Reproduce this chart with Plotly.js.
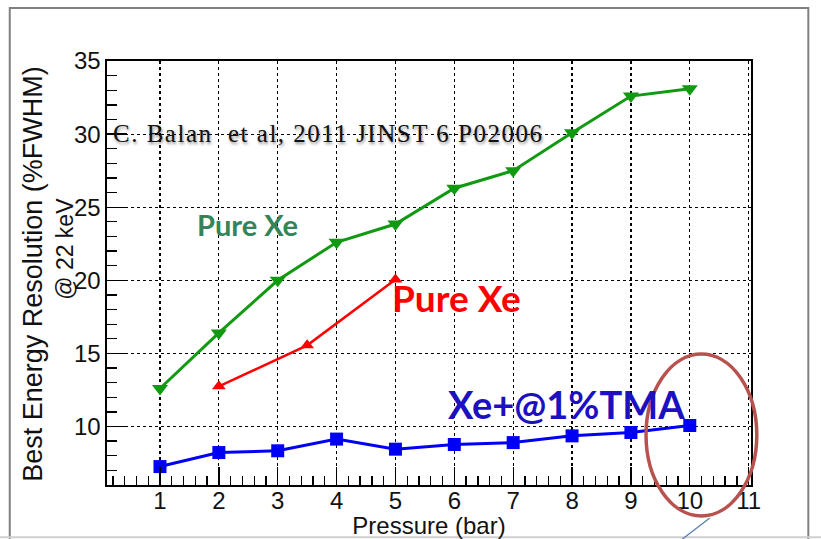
<!DOCTYPE html>
<html>
<head>
<meta charset="utf-8">
<script src="https://cdn.plot.ly/plotly-3.0.1.min.js"></script>
<style>
  html, body { margin: 0; padding: 0; background: #fff; }
  #chart { width: 821px; height: 539px; }
  /* soft drop shadow on the citation line */
  g.annotation[data-index="0"] text {
    text-shadow: 1px 2px 3px rgba(0,0,0,0.45);
    letter-spacing: 1.5px;
  }
</style>
</head>
<body>
<div id="chart"></div>
<script>
// Energy resolution vs pressure
const pureXeP   = [1, 2, 3, 4, 5, 6, 7, 8, 9, 10];
const pureXeRes = [12.6, 16.4, 20.0, 22.6, 23.85, 26.3, 27.5, 30.1, 32.6, 33.1];

const pureXe2P   = [2, 3.5, 5];
const pureXe2Res = [12.75, 15.55, 20.05];

const tmaP   = [1, 2, 3, 4, 5, 6, 7, 8, 9, 10];
const tmaRes = [7.26, 8.22, 8.34, 9.14, 8.45, 8.77, 8.9, 9.36, 9.59, 10.07];

const xTicks = [1, 2, 3, 4, 5, 6, 7, 8, 9, 10, 11];
const yTicks = [10, 15, 20, 25, 30, 35];

const traces = [
  {
    x: pureXeP, y: pureXeRes, type: 'scatter', mode: 'lines+markers',
    line: { color: '#119a11', width: 3 },
    marker: { symbol: 'triangle-down', size: 14, color: '#119a11' },
    showlegend: false
  },
  {
    x: pureXe2P, y: pureXe2Res, type: 'scatter', mode: 'lines+markers',
    line: { color: '#ff0000', width: 2.5 },
    marker: { symbol: 'triangle-up', size: 12, color: '#ff0000' },
    showlegend: false
  },
  {
    x: tmaP, y: tmaRes, type: 'scatter', mode: 'lines+markers',
    line: { color: '#0000f5', width: 3 },
    marker: { symbol: 'square', size: 13, color: '#0000f5' },
    showlegend: false
  }
];

const axisFont = { family: 'Liberation Sans, Arial, sans-serif', size: 24, color: '#111' };

const layout = {
  width: 821, height: 539,
  margin: { l: 107, r: 70, t: 61, b: 54 },
  paper_bgcolor: '#fff', plot_bgcolor: '#fff',
  xaxis: {
    range: [0.1, 11.04],
    tickvals: xTicks, ticktext: xTicks.map(String),
    ticks: 'inside', ticklen: 18, tickwidth: 1.3, tickcolor: '#000',
    ticklabelstandoff: -6,
    minor: { dtick: 0.2, ticks: 'inside', ticklen: 9, tickwidth: 1.3, tickcolor: '#000', showgrid: false },
    showgrid: true, gridcolor: '#000', gridwidth: 1.2, griddash: 'dot',
    showline: true, linecolor: '#000', linewidth: 1.6, mirror: true,
    zeroline: false,
    tickfont: axisFont,
    title: { text: 'Pressure (bar)', font: { family: 'Liberation Sans, Arial, sans-serif', size: 24, color: '#111' }, standoff: 6 }
  },
  yaxis: {
    range: [6, 35],
    tickvals: yTicks, ticktext: yTicks.map(String),
    ticks: 'inside', ticklen: 20, tickwidth: 1.3, tickcolor: '#000',
    minor: { dtick: 1, ticks: 'inside', ticklen: 10, tickwidth: 1.3, tickcolor: '#000', showgrid: false },
    showgrid: true, gridcolor: '#000', gridwidth: 1.2, griddash: 'dot',
    showline: true, linecolor: '#000', linewidth: 1.6, mirror: true,
    zeroline: false,
    tickfont: axisFont
  },
  annotations: [
    {
      text: 'C. Balan  et al, 2011 JINST 6 P02006',
      xref: 'paper', yref: 'paper', x: 0.343, y: 0.830,
      xanchor: 'center', yanchor: 'middle', showarrow: false,
      font: { family: 'Liberation Serif, Times New Roman, serif', size: 25, color: '#111' }
    },
    {
      text: '<b>Pure Xe</b>', xref: 'x', yref: 'y', x: 2.49, y: 23.85,
      xanchor: 'center', yanchor: 'middle',
      showarrow: false, font: { family: 'Lato, sans-serif', size: 29, color: '#34845a' }
    },
    {
      text: '<b>Pure Xe</b>', xref: 'x', yref: 'y', x: 6.03, y: 18.8,
      xanchor: 'center', yanchor: 'middle',
      showarrow: false, font: { family: 'Lato, sans-serif', size: 37, color: '#ff0000' }
    },
    {
      text: '<b>Xe+@1%TMA</b>', xref: 'x', yref: 'y', x: 7.91, y: 11.55,
      xanchor: 'center', yanchor: 'middle',
      showarrow: false, font: { family: 'Lato, sans-serif', size: 38, color: '#1c10c0' }
    },
    {
      text: 'Best Energy Resolution (%FWHM)', xref: 'paper', yref: 'paper',
      x: -0.115, y: 0.498, xanchor: 'center', yanchor: 'middle',
      textangle: -90, showarrow: false,
      font: { family: 'Liberation Sans, Arial, sans-serif', size: 27, color: '#111' }
    },
    {
      text: '@ 22 keV', xref: 'paper', yref: 'paper',
      x: -0.0652, y: 0.557, xanchor: 'center', yanchor: 'middle',
      textangle: -90, showarrow: false,
      font: { family: 'Liberation Sans, Arial, sans-serif', size: 23, color: '#111' }
    }
  ],
  shapes: [
    // slide frame
    { type: 'rect', xref: 'paper', yref: 'paper', x0: -0.151, x1: 1.089, y0: -0.15, y1: 1.125,
      line: { color: '#808080', width: 2 }, layer: 'below' },
    // bottom edge of the slide
    { type: 'line', xref: 'paper', yref: 'paper', x0: -0.17, x1: 1.11, y0: -0.123, y1: -0.123,
      line: { color: '#cfcfcf', width: 2 } },
    // highlight ellipse around the 10 bar point
    { type: 'circle', xref: 'paper', yref: 'paper', x0: 0.837, x1: 1.009, y0: -0.073, y1: 0.309,
      line: { color: '#b8524e', width: 3.5 } },
    // pointer line
    { type: 'line', xref: 'paper', yref: 'paper', x0: 0.936, y0: -0.078, x1: 0.887, y1: -0.135,
      line: { color: '#5a7fb0', width: 1.3 } }
  ]
};

Plotly.newPlot('chart', traces, layout, { displayModeBar: false, staticPlot: true });
</script>
</body>
</html>
